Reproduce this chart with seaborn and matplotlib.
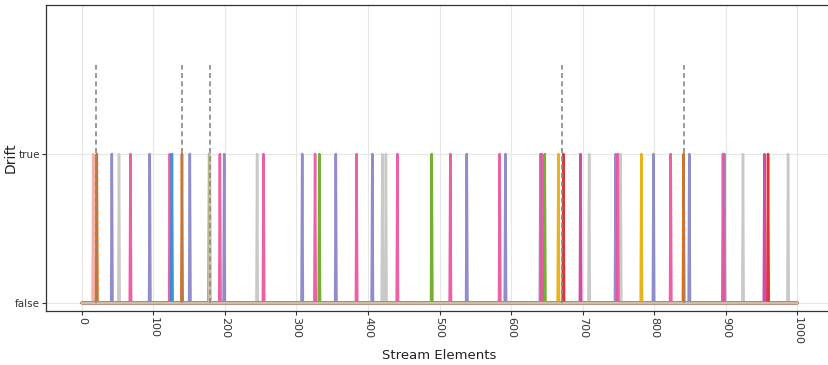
import numpy as np
import pandas as pd
import matplotlib
matplotlib.use("Agg")
import matplotlib.pyplot as plt
import seaborn as sns

# Stream length and true drift positions
stream_length = 1000
true_drifts = [20, 140, 179, 671, 841]

# Positions where each detector flagged a drift
detectors = ["D1", "D2", "D3", "D4", "D5", "D6", "D7", "D8", "D9", "D10", "D11"]
detections = {
    "D1": [16],
    "D2": [21, 140, 841],
    "D3": [42, 95, 151, 199, 308, 355, 406, 538, 592, 641, 746, 799, 849, 898],
    "D4": [52, 245, 420, 425, 709, 753, 924, 987],
    "D5": [68, 123, 193, 254, 326, 384, 441, 515, 584, 643, 749, 823, 896],
    "D6": [126],
    "D7": [178, 332, 489, 647],
    "D8": [666, 782],
    "D9": [673, 959],
    "D10": [697, 954],
    "D11": [179],
}
colors = ["#f7a99a", "#d95f02", "#8581c6", "#c4c4c4", "#ec4f9d", "#1f8fd6",
          "#66a61e", "#e6ab02", "#e41a1c", "#c93a9e", "#cdbfa6"]

rows = []
idx = np.arange(stream_length + 1)
for name in detectors:
    sig = np.zeros(len(idx))
    sig[detections[name]] = 1
    rows.append(pd.DataFrame({"Stream Elements": idx, "Drift": sig, "detector": name}))
df = pd.concat(rows, ignore_index=True)

sns.set_theme(style="whitegrid")
fig = plt.figure(figsize=(8.29, 3.65), dpi=100)
ax = fig.add_axes([0.0555, 0.148, 0.9495, 0.838])

sns.lineplot(data=df, x="Stream Elements", y="Drift", hue="detector",
             palette=dict(zip(detectors, colors)), estimator=None,
             linewidth=1.8, alpha=0.9, legend=False, ax=ax)
# the last detector sits on top along the baseline
ax.lines[-1].set_alpha(1.0)

ax.vlines(true_drifts, 0, 1.6, colors="#888888", linestyles=(0, (3, 2)),
          linewidth=1.2, zorder=5)

ax.set_xlim(-50, 1050)
ax.set_ylim(-0.054, 2.0)
ax.set_xticks(range(0, 1001, 100))
ax.set_xticklabels([str(v) for v in range(0, 1001, 100)], rotation=-90,
                   fontsize=8, color="#333333")
ax.set_yticks([0, 1])
ax.set_yticklabels(["false", "true"], fontsize=7.5, color="#333333")
ax.set_xlabel("Stream Elements", fontsize=9.5, color="#222222")
ax.set_ylabel("Drift", fontsize=10, color="#222222")
ax.xaxis.set_label_coords(0.499, -0.125)
ax.yaxis.set_label_coords(-0.036, 0.5)
ax.grid(True, color="#e6e6e6", linewidth=0.8)

for side in ["left", "top", "bottom", "right"]:
    ax.spines[side].set_color("#333333")
    ax.spines[side].set_linewidth(0.9)
ax.tick_params(axis="both", which="both", length=3, width=0.8, color="#333333",
               bottom=True, left=True, pad=1.5)

fig.savefig("out.png", dpi=100)
